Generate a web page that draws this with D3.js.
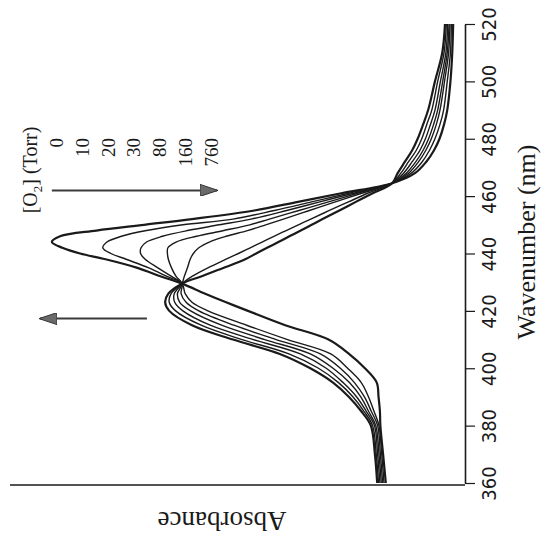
<!DOCTYPE html>
<html><head><meta charset="utf-8">
<script src="https://cdn.jsdelivr.net/npm/d3@7"></script>
<style>body{margin:0;background:#fff}svg{display:block}</style>
</head><body><svg id="chart" width="543" height="537"></svg>
<script>
// Wavelength sample points (nm)
const wavelengths = [360, 370, 380, 385, 390, 395, 400, 405, 410, 415, 420, 423, 426, 429.5, 432, 435, 438, 440, 442, 444, 446, 448, 450, 452, 455, 458, 461, 464.5, 468, 472, 476, 480, 485, 490, 500, 510, 520];
const o2Levels = ["0", "10", "20", "30", "80", "160", "760"];
// Absorbance (arbitrary units) for each O2 pressure
const abs0   = [.174,.180,.186,.187,.190,.194,.220,.255,.300,.395,.477,.525,.571,.622,.668,.720,.790,.846,.885,.908,.890,.810,.705,.600,.463,.367,.272,.160,.110,.085,.068,.056,.046,.039,.032,.028,.026];
const abs10  = [.178,.183,.189,.200,.212,.228,.258,.295,.390,.480,.565,.600,.615,.622,.655,.695,.745,.778,.796,.787,.755,.700,.620,.510,.419,.337,.256,.160,.118,.094,.078,.066,.055,.047,.039,.032,.030];
const abs20  = [.181,.186,.192,.206,.221,.243,.274,.318,.415,.508,.585,.613,.624,.622,.645,.675,.703,.713,.712,.700,.665,.610,.540,.470,.392,.319,.245,.160,.124,.102,.086,.074,.063,.055,.045,.036,.033];
const abs30  = [.184,.189,.196,.212,.229,.254,.290,.340,.440,.535,.603,.627,.632,.622,.635,.645,.652,.654,.653,.635,.590,.530,.473,.430,.365,.300,.236,.160,.129,.108,.092,.080,.069,.060,.049,.039,.035];
const abs80  = [.187,.192,.199,.217,.238,.268,.305,.362,.465,.560,.620,.638,.639,.622,.617,.610,.604,.597,.585,.562,.525,.478,.438,.399,.342,.285,.227,.160,.135,.116,.099,.087,.076,.066,.054,.042,.038];
const abs160 = [.190,.195,.203,.222,.246,.278,.322,.387,.490,.580,.636,.650,.646,.622,.600,.565,.525,.498,.472,.446,.420,.393,.366,.339,.298,.256,.214,.160,.141,.124,.107,.095,.084,.073,.060,.046,.041];
const abs760 = [.193,.198,.207,.228,.255,.290,.340,.407,.510,.600,.650,.659,.652,.622,.580,.530,.483,.459,.435,.410,.386,.361,.337,.313,.276,.240,.203,.160,.148,.132,.116,.104,.092,.081,.066,.050,.044];
const wavelengthTicks = [360, 380, 400, 420, 440, 460, 480, 500, 520];
// Trend arrows: [wavelength, absorbance start, absorbance end]
const arrowUpper = [462, 0.908, 0.545];
const arrowLower = [417.3, 0.699, 0.934];

const seriesList = [abs0, abs10, abs20, abs30, abs80, abs160, abs760];

const svg = d3.select("#chart");
const ink = "#1a1a1a";
const serif = "'Liberation Serif','Times New Roman',serif";
const narrow = "'Liberation Sans Narrow','Arial Narrow','DejaVu Sans Condensed',sans-serif";

// Rotated chart: absorbance grows to the left, wavelength grows upward
const aScale = d3.scaleLinear().domain([0, 1]).range([465, 10]);
const wScale = d3.scaleLinear().domain([360, 520]).range([483, 24]);

// Wavelength axis (right side)
const wAxis = svg.append("g").attr("transform", "translate(465,0)")
  .call(d3.axisRight(wScale).tickValues(wavelengthTicks).tickSize(10).tickSizeOuter(0));
wAxis.select(".domain").attr("stroke", ink).attr("stroke-width", 1.6);
wAxis.selectAll(".tick line").attr("stroke", ink).attr("stroke-width", 1.2);
wAxis.selectAll(".tick text")
  .attr("x", null).attr("dy", null)
  .attr("transform", "translate(31,0) rotate(-90)")
  .attr("text-anchor", "middle")
  .attr("fill", ink)
  .style("font-family", narrow).style("font-size", "20px");

// Absorbance axis (bottom line, no ticks)
svg.append("line")
  .attr("x1", aScale(1)).attr("x2", aScale(0))
  .attr("y1", 485).attr("y2", 485)
  .attr("stroke", ink).attr("stroke-width", 1.6);

// Curves
const line = d3.line()
  .x(d => aScale(d[1]))
  .y(d => wScale(d[0]))
  .curve(d3.curveCatmullRom.alpha(0.5));

svg.append("g").selectAll("path")
  .data(seriesList)
  .join("path")
  .attr("d", s => line(wavelengths.map((w, i) => [w, s[i]])))
  .attr("fill", "none")
  .attr("stroke", ink)
  .attr("stroke-width", (s, i) => (i === 0 || i === seriesList.length - 1) ? 2.2 : 1.4)
  .attr("stroke-linejoin", "round");

// Arrows
const defs = svg.append("defs");
defs.append("marker").attr("id", "ah")
  .attr("viewBox", "0 0 18 12").attr("refX", 17).attr("refY", 6)
  .attr("markerWidth", 18).attr("markerHeight", 12)
  .attr("markerUnits", "userSpaceOnUse").attr("orient", "auto")
  .append("path").attr("d", "M0,0L18,6L0,12Z")
  .attr("fill", "#6a6a6a").attr("stroke", "#333").attr("stroke-width", 1);

[arrowUpper, arrowLower].forEach(a => {
  svg.append("line")
    .attr("x1", aScale(a[1])).attr("x2", aScale(a[2]))
    .attr("y1", wScale(a[0])).attr("y2", wScale(a[0]))
    .attr("stroke", "#3a3a3a").attr("stroke-width", 2)
    .attr("marker-end", "url(#ah)");
});

// Legend
const leg = svg.append("g").style("font-family", serif).attr("fill", ink);
const title = leg.append("text")
  .attr("transform", "translate(37,170) rotate(-90)")
  .attr("text-anchor", "middle")
  .style("font-size", "20px");
title.append("tspan").text("[O");
title.append("tspan").attr("dy", 5).style("font-size", "13px").text("2");
title.append("tspan").attr("dy", -5).text("] (Torr)");

leg.selectAll("text.lvl")
  .data(o2Levels)
  .join("text").attr("class", "lvl")
  .attr("transform", (d, i) => `translate(${63 + i * 25.8},138) rotate(-90)`)
  .attr("text-anchor", "end")
  .style("font-size", "19px")
  .text(d => d);

// Axis titles
svg.append("text")
  .attr("transform", "translate(535,242) rotate(-90)")
  .attr("text-anchor", "middle")
  .style("font-family", serif).style("font-size", "26px")
  .attr("fill", ink)
  .text("Wavenumber (nm)");

svg.append("text")
  .attr("transform", "translate(222,512) rotate(180)")
  .attr("text-anchor", "middle")
  .style("font-family", serif).style("font-size", "27px")
  .attr("fill", ink)
  .text("Absorbance");
</script>
</body></html>
